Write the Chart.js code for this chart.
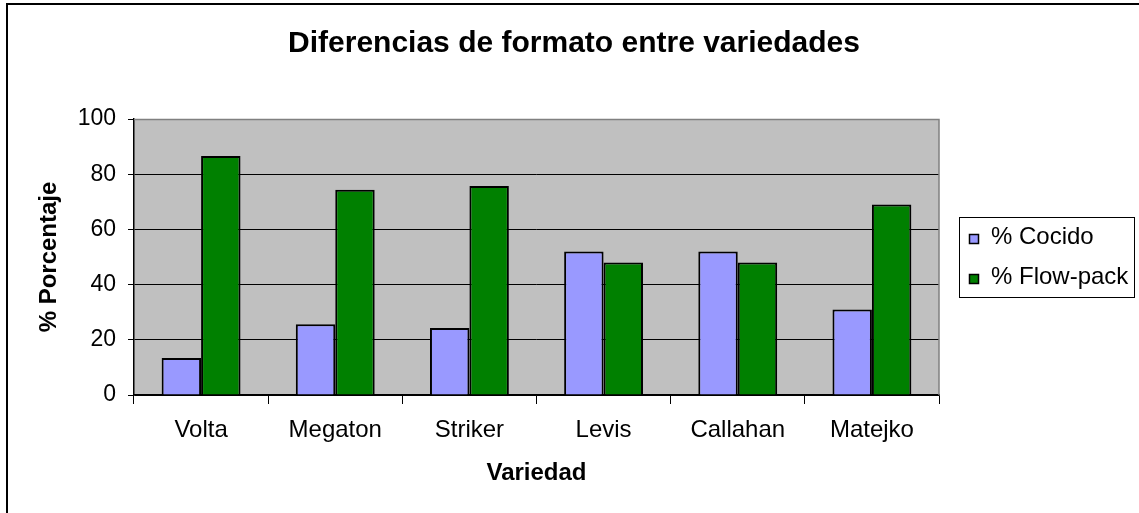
<!DOCTYPE html>
<html>
<head>
<meta charset="utf-8">
<script src="https://cdn.jsdelivr.net/npm/chart.js@4/dist/chart.umd.min.js"></script>
<style>
  html, body { margin: 0; padding: 0; background: #fff; }
  #wrap { position: relative; width: 1139px; height: 513px; }
</style>
</head>
<body>
<div id="wrap"><canvas id="formatChart"></canvas></div>
<script>
const categories = ["Volta", "Megaton", "Striker", "Levis", "Callahan", "Matejko"];
const cocido = [13.4, 25.6, 24.3, 52, 52, 31];
const flowPack = [86.6, 74.4, 75.7, 48, 48, 69];
const seriesNames = ["% Cocido", "% Flow-pack"];
const chartTitle = "Diferencias de formato entre variedades";
const xTitle = "Variedad";
const yTitle = "% Porcentaje";

const FONT = "Arial, 'Liberation Sans', sans-serif";

// fondo gris del area de trazado + borde gris arriba/derecha
const plotBg = {
  id: "plotBg",
  beforeDraw(chart) {
    const { ctx, chartArea: a } = chart;
    ctx.save();
    ctx.fillStyle = "#c0c0c0";
    ctx.fillRect(a.left, a.top, a.right - a.left, a.bottom - a.top);
    ctx.restore();
  },
  afterDatasetsDraw(chart) {
    const { ctx, chartArea: a } = chart;
    ctx.save();
    ctx.strokeStyle = "#808080";
    ctx.lineWidth = 1.5;
    ctx.beginPath();
    ctx.moveTo(a.left, a.top + 0.5);
    ctx.lineTo(a.right, a.top + 0.5);
    ctx.lineTo(a.right, a.bottom);
    ctx.stroke();
    ctx.restore();
  }
};

// titulo, leyenda y marco del grafico
const extras = {
  id: "extras",
  afterDraw(chart) {
    const ctx = chart.ctx;
    ctx.save();
    // marco exterior (solo visible izquierda y arriba)
    ctx.strokeStyle = "#000";
    ctx.lineWidth = 2;
    ctx.beginPath();
    ctx.moveTo(7, 513);
    ctx.lineTo(7, 4);
    ctx.lineTo(1139, 4);
    ctx.stroke();

    ctx.fillStyle = "#000";
    ctx.font = "bold 30px " + FONT;
    ctx.textAlign = "center";
    ctx.textBaseline = "alphabetic";
    ctx.fillText(chartTitle, 574, 52);

    // leyenda
    ctx.lineWidth = 1;
    ctx.strokeRect(959.5, 217.5, 175, 80);
    ctx.font = "24px " + FONT;
    ctx.textAlign = "left";
    chart.data.datasets.forEach((ds, i) => {
      const cy = 239 + i * 40;
      ctx.fillStyle = ds.backgroundColor;
      ctx.fillRect(969, cy - 5, 10, 10);
      ctx.lineWidth = 1.5;
      ctx.strokeRect(969.5, cy - 4.5, 9, 9);
      ctx.fillStyle = "#000";
      ctx.fillText(ds.label, 991, 244 + i * 40);
    });
    ctx.restore();
  }
};

new Chart(document.getElementById("formatChart"), {
  type: "bar",
  data: {
    labels: categories,
    datasets: [
      { label: seriesNames[0], data: cocido, backgroundColor: "#9999ff", borderColor: "#000", borderWidth: 2 },
      { label: seriesNames[1], data: flowPack, backgroundColor: "#008000", borderColor: "#000", borderWidth: 2 }
    ]
  },
  options: {
    responsive: true,
    maintainAspectRatio: false,
    animation: false,
    datasets: { bar: { categoryPercentage: 0.588, barPercentage: 1 } },
    layout: { padding: { left: 31, top: 119, right: 200, bottom: 21 } },
    plugins: {
      legend: { display: false },
      title: { display: false },
      tooltip: { enabled: false }
    },
    scales: {
      x: {
        grid: { offset: true, drawOnChartArea: false, tickLength: 9, color: "#000" },
        border: { color: "#000", width: 1.5 },
        ticks: { color: "#000", padding: 12, font: { family: FONT, size: 24 } },
        title: { display: true, text: xTitle, color: "#000", font: { family: FONT, size: 24, weight: "bold" } },
        afterFit(scale) { scale.height = 97; }
      },
      y: {
        min: 0,
        max: 100,
        ticks: { stepSize: 20, color: "#000", padding: 12, font: { family: FONT, size: 23 } },
        grid: {
          color: (c) => (c.tick && c.tick.value === 100 ? "#808080" : "#000"),
          tickColor: "#000",
          tickLength: 6,
          lineWidth: 1
        },
        border: { color: "#000", width: 1.5 },
        title: { display: true, text: yTitle, color: "#000", font: { family: FONT, size: 24, weight: "bold" } },
        afterFit(scale) { scale.width = 103; }
      }
    }
  },
  plugins: [plotBg, extras]
});
</script>
</body>
</html>
